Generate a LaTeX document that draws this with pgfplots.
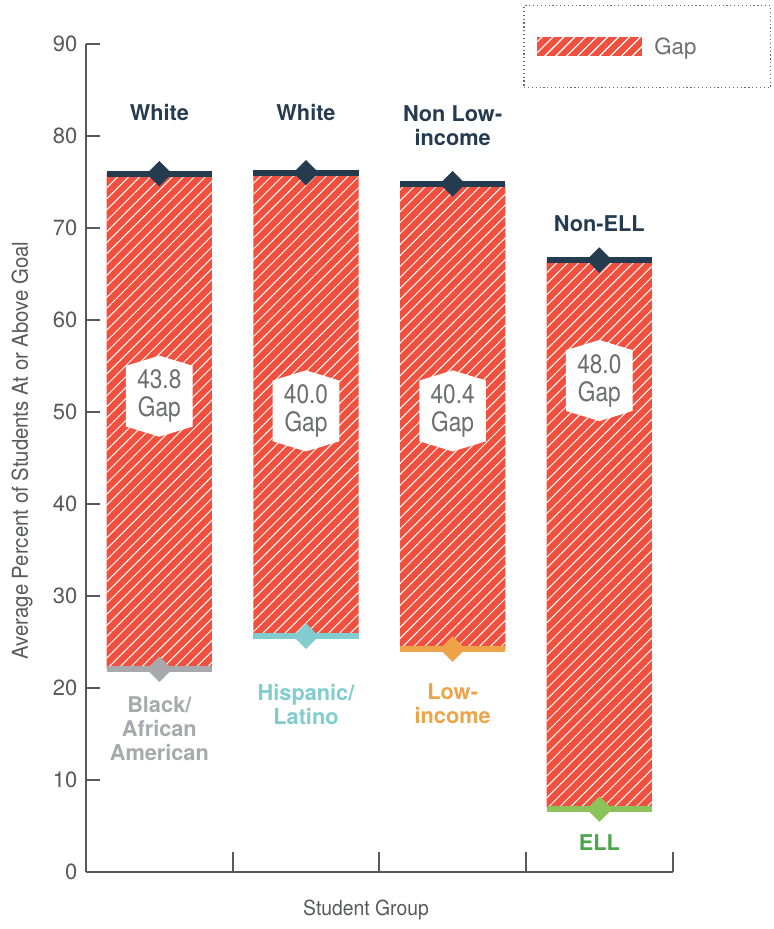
\documentclass[border=0pt]{standalone}
\usepackage{fontspec}
\setmainfont{TeX Gyre Heros}
\newfontfamily\condfont[FakeStretch=0.93]{TeX Gyre Heros}
\newfontfamily\narrowfont[FakeStretch=0.85]{TeX Gyre Heros}
\usepackage{pgfplots}
\pgfplotsset{compat=1.18}
\usepackage{pgfplotstable}
\usetikzlibrary{patterns.meta,shapes.symbols}

\definecolor{gapred}{HTML}{F2503F}
\definecolor{navy}{HTML}{253B50}
\definecolor{grpgray}{HTML}{A7A9AC}
\definecolor{grpteal}{HTML}{80CCCE}
\definecolor{grporange}{HTML}{EFA348}
\definecolor{grpgreen}{HTML}{8BC25A}
\definecolor{elltext}{HTML}{4AA64B}
\definecolor{axisgray}{HTML}{58595B}
\definecolor{labelgray}{HTML}{6D6E71}

\tikzset{
  gaphatch/.style={pattern={Lines[angle=45,distance=5.8pt,line width=0.75pt]},pattern color=white},
  toplab/.style={font=\bfseries\fontsize{16.3}{18}\selectfont,text=navy,align=center},
  botlab/.style={font=\bfseries\fontsize{16.3}{18}\selectfont,align=center},
  gaplab/.style={shape=signal,signal to=north and south,signal pointer angle=146,
    fill=white,text=labelgray,align=center,text width=44pt,inner xsep=3pt,inner ysep=3pt,
    font=\narrowfont\fontsize{20}{21}\selectfont},
}

% group, score of the lower group, score of the higher group
\pgfplotstableread{
x low  top  grp
0 22.0 75.9 blk
1 25.6 76.0 hsp
2 24.2 74.8 lin
3  6.8 66.5 ell
}\gapdata

\begin{document}
\begin{tikzpicture}
\useasboundingbox (-64.5pt,-43.125pt) rectangle (516pt,653.625pt);
\begin{axis}[
  scale only axis, width=440pt, height=620.6pt,
  xmin=-0.5, xmax=3.5, ymin=0, ymax=90,
  axis x line*=bottom, axis y line*=left,
  axis line style={axisgray,line width=1.5pt},
  tick style={axisgray,line width=1.5pt},
  tick align=inside,
  major tick length=10.5pt,
  xtick={-0.5,0.5,1.5,2.5,3.5}, xticklabels={},
  xtick style={/pgfplots/major tick length=15pt},
  ytick={0,10,...,90},
  yticklabel style={font=\fontsize{16.5}{19}\selectfont,text=axisgray,xshift=-3pt},
  /pgf/number format/assume math mode=true,
  ybar stacked, bar width=0.718,
  xlabel={Student Group},
  ylabel={Average Percent of Students At or Above Goal},
  every axis x label/.style={at={(axis description cs:0.4773,-0.0465)},anchor=center,
    font=\condfont\fontsize{15.6}{18}\selectfont,text=axisgray},
  every axis y label/.style={at={(axis description cs:-0.1091,0.5088)},rotate=90,anchor=center,
    font=\condfont\fontsize{16.4}{18}\selectfont,text=axisgray},
  legend style={at={(axis description cs:1.1676,1.0471)},anchor=north east,
    draw=axisgray!90,dotted,line width=0.9pt,inner xsep=10pt,inner ysep=21.8pt,
    font=\fontsize{16.7}{19}\selectfont,text=labelgray},
]
% lower group score: invisible base of the stacked bar
\addplot[forget plot,draw=none,fill=none] table[x=x,y=low] \gapdata;
% the gap itself
\addplot[fill=gapred,draw=none,postaction={gaphatch},
  legend image code/.code={\path[fill=gapred,postaction={gaphatch}] (0pt,-7.1pt) rectangle (78.75pt,7.1pt);}]
  table[x=x,y expr=\thisrow{top}-\thisrow{low}] \gapdata;
\addlegendentry{\makebox[82pt][l]{\hspace{7pt}Gap}}

% higher group: line and diamond
\addplot[forget plot,stack plots=false,sharp plot,only marks,mark=-,mark size=39.5pt,
  mark options={solid,line width=4.5pt,draw=navy}] table[x=x,y=top] \gapdata;
\addplot[forget plot,stack plots=false,sharp plot,only marks,mark=square*,mark size=6.6pt,
  mark options={solid,rotate=45,fill=navy,draw=navy,line width=0.3pt}] table[x=x,y=top] \gapdata;

% lower group: line and diamond, one colour per group
\addplot[forget plot,stack plots=false,sharp plot,only marks,scatter,scatter src=explicit symbolic,
  mark=-,mark size=39.5pt,mark options={solid,line width=4.5pt},
  scatter/classes={blk={draw=grpgray},hsp={draw=grpteal},lin={draw=grporange},ell={draw=grpgreen}}]
  table[x=x,y=low,meta=grp] \gapdata;
\addplot[forget plot,stack plots=false,sharp plot,only marks,scatter,scatter src=explicit symbolic,
  mark=square*,mark size=6.6pt,mark options={solid,rotate=45,line width=0.3pt},
  scatter/classes={blk={draw=grpgray,fill=grpgray},hsp={draw=grpteal,fill=grpteal},
    lin={draw=grporange,fill=grporange},ell={draw=grpgreen,fill=grpgreen}}]
  table[x=x,y=low,meta=grp] \gapdata;

% group names
\node[toplab] at (axis cs:0,82.5) {White};
\node[toplab] at (axis cs:1,82.5) {White};
\node[toplab] at (axis cs:2,81.1) {Non Low-\\income};
\node[toplab] at (axis cs:3,70.5) {Non-ELL};
\node[botlab,text=grpgray] at (axis cs:0,15.5) {Black/\\African\\American};
\node[botlab,text=grpteal] at (axis cs:1,18.2) {Hispanic/\\Latino};
\node[botlab,text=grporange] at (axis cs:2,18.2) {Low-\\income};
\node[botlab,text=elltext] at (axis cs:3,3.1) {ELL};

% anchors for the gap sizes, which are set above the bars
\coordinate (gap0) at (axis cs:0,51.7);
\coordinate (gap1) at (axis cs:1,50.1);
\coordinate (gap2) at (axis cs:2,50.1);
\coordinate (gap3) at (axis cs:3,53.4);
\end{axis}
\node[gaplab] at (gap0) {43.8\\Gap};
\node[gaplab] at (gap1) {40.0\\Gap};
\node[gaplab] at (gap2) {40.4\\Gap};
\node[gaplab] at (gap3) {48.0\\Gap};
\end{tikzpicture}
\end{document}
